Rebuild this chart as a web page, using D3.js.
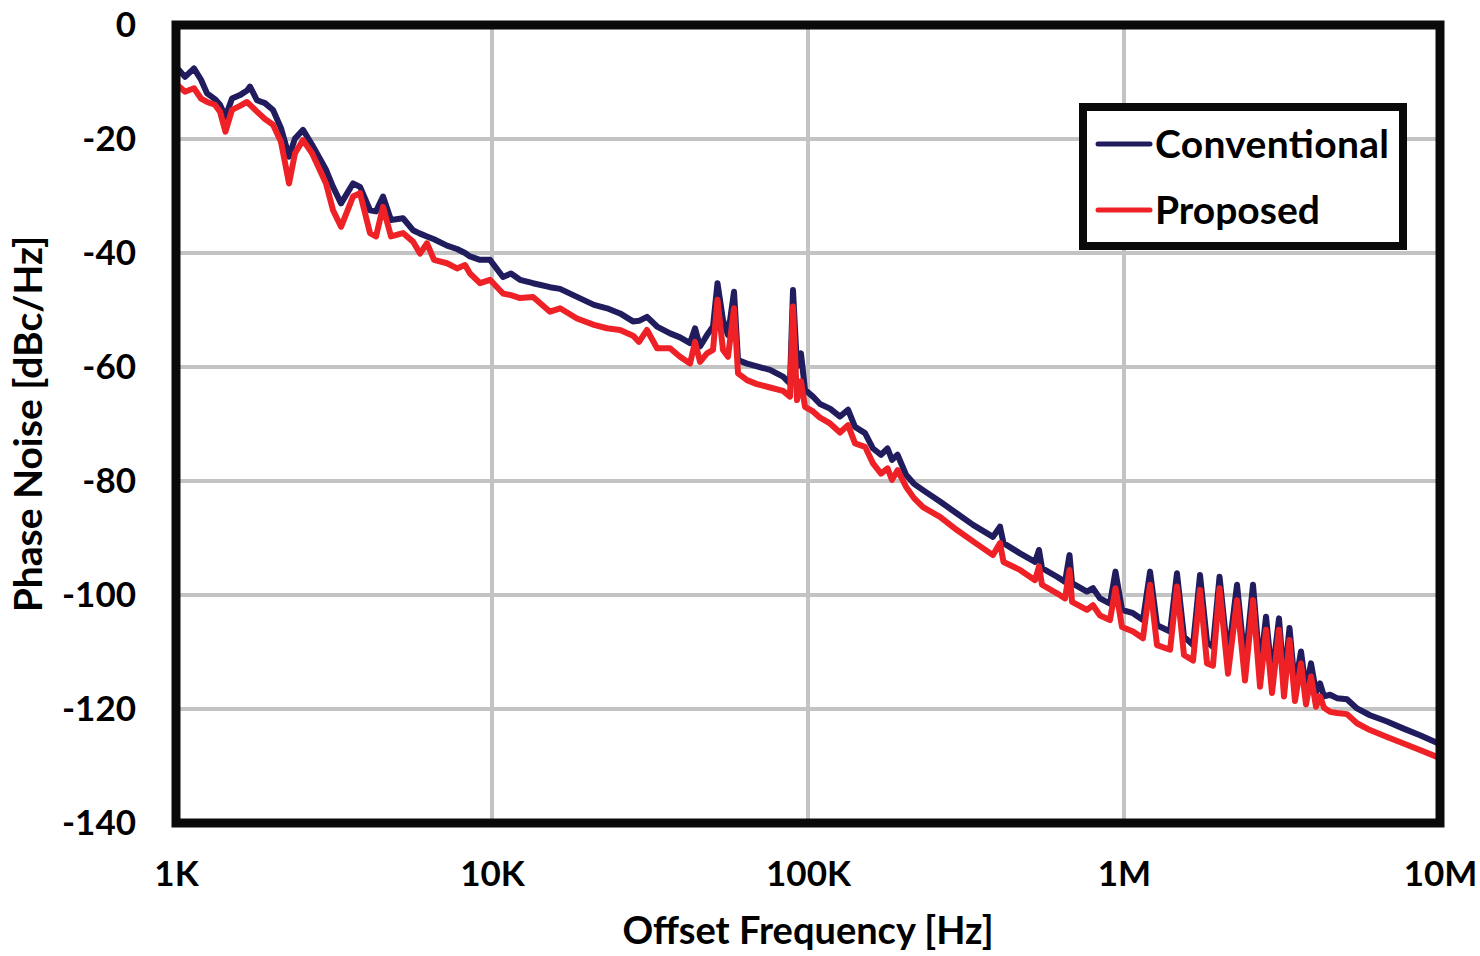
<!DOCTYPE html>
<html>
<head>
<meta charset="utf-8">
<script src="https://cdn.jsdelivr.net/npm/d3@7"></script>
<style>
  body { margin: 0; background: #fff; }
  text { font-family: Lato, "Open Sans", sans-serif; font-weight: 700; fill: #000; }
</style>
</head>
<body>
<div id="chart"></div>
<script>
// offset frequency in Hz
const freq = [1000,1068,1140,1200,1254,1328,1378,1434,1504,1594,1678,1715,1804,1912,2028,2149,2279,2380,2523,2695,
  2984,3140,3329,3632,3823,4111,4295,4520,4790,5229,5623,5919,6228,6554,7205,7750,8216,8520,9162,9856,
  10834,11483,12265,13487,15263,16420,18578,21028,23117,25420,27940,29190,30943,33290,36597,39355,42340,43910,45530,47907,
  50050,51710,53830,55830,58330,60060,64120,68960,75800,83360,87700,89640,92300,95000,97840,103700,109150,117400,126270,133870,
  140860,151500,160600,170220,178540,184470,192020,204240,216510,231200,261600,296050,332930,384900,405100,415600,468700,522900,538300,550200,
  613800,650700,672300,684700,763600,797700,839500,902900,939900,985600,1068000,1148000,1209000,1272000,1399000,1471000,1548000,1654000,1740000,1831000,
  1912000,2006000,2134000,2279000,2415000,2560000,2695000,2815000,2941000,3094000,3209000,3340000,3476000,3632000,3767000,3907000,4052000,4172000,4295000,4487000,
  4721000,5078000,5462000,6005000,6797000,7637000,8644000,9780000,10000000];

// phase noise in dBc/Hz
const conventional = [-7.3,-9.1,-7.6,-9.6,-12.0,-13.0,-14.0,-16.1,-12.9,-12.3,-11.5,-10.8,-13.2,-13.7,-14.9,-18.1,-23.1,-19.9,-18.4,-21.0,
  -25.4,-28.4,-31.3,-27.8,-28.4,-32.5,-32.7,-30.1,-34.2,-33.9,-36.0,-36.6,-37.1,-37.6,-38.7,-39.3,-40.0,-40.6,-41.2,-41.2,
  -44.2,-43.6,-44.7,-45.3,-46.0,-46.3,-47.7,-49.1,-49.7,-50.6,-52.0,-51.9,-51.2,-52.9,-54.1,-54.8,-55.8,-53.2,-56.4,-54.4,
  -52.9,-45.3,-51.8,-54.4,-46.8,-58.8,-59.4,-59.9,-60.5,-61.7,-62.9,-46.5,-59.9,-57.6,-64.0,-65.2,-66.5,-67.3,-68.7,-67.5,
  -70.5,-71.6,-74.3,-75.4,-74.3,-76.3,-75.4,-78.9,-80.5,-81.6,-83.6,-85.7,-87.7,-89.8,-88.0,-90.9,-92.7,-94.2,-92.1,-95.3,
  -96.8,-97.7,-93.0,-97.9,-99.4,-98.8,-100.6,-101.5,-95.9,-102.6,-103.2,-104.4,-95.9,-105.3,-106.4,-96.2,-107.3,-108.8,-96.5,-108.2,
  -109.1,-96.8,-111.1,-98.2,-112.3,-98.2,-113.2,-103.8,-114.5,-104.1,-115.2,-105.8,-116.1,-109.9,-116.7,-112.0,-117.0,-115.5,-117.8,-117.5,
  -118.1,-118.3,-119.9,-121.1,-122.2,-123.4,-124.6,-125.9,-126.1];

const proposed = [-10.3,-11.7,-11.1,-12.9,-13.5,-14.0,-15.2,-18.7,-14.9,-14.2,-13.5,-14.0,-15.2,-16.5,-17.5,-20.5,-27.8,-22.5,-20.2,-22.5,
  -27.8,-32.5,-35.4,-30.1,-29.5,-36.5,-37.1,-31.9,-37.1,-36.5,-38.0,-40.1,-38.3,-41.2,-41.8,-42.7,-42.1,-43.6,-45.3,-44.7,
  -47.1,-47.4,-47.9,-47.7,-50.3,-49.7,-51.5,-52.6,-53.2,-53.5,-54.5,-55.6,-53.5,-56.7,-56.7,-58.2,-59.4,-55.6,-59.1,-57.6,
  -57.0,-48.2,-57.0,-58.2,-49.7,-61.1,-62.3,-63.0,-63.6,-64.2,-65.2,-49.4,-65.8,-62.5,-67.0,-67.8,-68.9,-69.9,-71.5,-70.2,
  -73.4,-74.0,-76.9,-78.7,-77.8,-79.8,-78.1,-81.0,-83.0,-84.6,-86.3,-88.6,-90.6,-93.0,-90.9,-94.2,-95.6,-97.4,-95.0,-98.2,
  -99.7,-100.6,-95.6,-101.2,-102.6,-101.8,-103.6,-104.4,-98.8,-105.6,-106.4,-107.6,-98.2,-108.8,-109.6,-98.5,-110.5,-111.5,-99.1,-112.0,
  -112.4,-98.8,-113.8,-100.9,-115.0,-100.9,-116.1,-106.1,-117.2,-106.1,-117.8,-107.9,-118.6,-112.0,-119.2,-114.3,-119.6,-117.8,-119.8,-120.5,
  -120.7,-120.9,-122.5,-123.7,-124.9,-126.0,-127.2,-128.4,-128.6];

const seriesNames = ["Conventional", "Proposed"];
const seriesColors = ["#201c5e", "#ee2226"];

const xTicks = [1e3, 1e4, 1e5, 1e6, 1e7];
const xTickLabels = ["1K", "10K", "100K", "1M", "10M"];
const yTicks = [0, -20, -40, -60, -80, -100, -120, -140];

const width = 1480, height = 956;
const margin = {top: 25, right: 40, bottom: 133, left: 176};

const svg = d3.select("#chart")
  .append("svg")
  .attr("width", width)
  .attr("height", height);

const x = d3.scaleLog()
  .domain([1e3, 1e7])
  .range([margin.left, width - margin.right]);

const y = d3.scaleLinear()
  .domain([-140, 0])
  .range([height - margin.bottom, margin.top]);

// grid
svg.append("g")
  .selectAll("line.vgrid")
  .data(xTicks.slice(1, -1))
  .enter()
  .append("line")
  .attr("x1", d => x(d)).attr("x2", d => x(d))
  .attr("y1", y(0)).attr("y2", y(-140))
  .attr("stroke", "#c3c3c3")
  .attr("stroke-width", 4);

svg.append("g")
  .selectAll("line.hgrid")
  .data(yTicks.slice(1, -1))
  .enter()
  .append("line")
  .attr("x1", x(1e3)).attr("x2", x(1e7))
  .attr("y1", d => y(d)).attr("y2", d => y(d))
  .attr("stroke", "#c3c3c3")
  .attr("stroke-width", 4);

// clip for lines
svg.append("clipPath").attr("id", "plotClip")
  .append("rect")
  .attr("x", x(1e3)).attr("y", y(0))
  .attr("width", x(1e7) - x(1e3))
  .attr("height", y(-140) - y(0));

const line = d3.line()
  .x((d, i) => x(freq[i]))
  .y(d => y(d));

const series = [conventional, proposed];
series.forEach((vals, k) => {
  svg.append("path")
    .datum(vals)
    .attr("clip-path", "url(#plotClip)")
    .attr("d", line)
    .attr("fill", "none")
    .attr("stroke", seriesColors[k])
    .attr("stroke-width", 6)
    .attr("stroke-linejoin", "round")
    .attr("stroke-linecap", "round");
});

// frame
svg.append("rect")
  .attr("x", x(1e3)).attr("y", y(0))
  .attr("width", x(1e7) - x(1e3))
  .attr("height", y(-140) - y(0))
  .attr("fill", "none")
  .attr("stroke", "#0a0a0a")
  .attr("stroke-width", 9);

// axes
const yAxis = d3.axisLeft(y)
  .tickValues(yTicks)
  .tickSize(0)
  .tickPadding(40)
  .tickFormat(d => d);

const gy = svg.append("g")
  .attr("transform", `translate(${margin.left},0)`)
  .call(yAxis);
gy.select(".domain").remove();
gy.selectAll("text")
  .attr("font-size", 35)
  .attr("font-family", "Lato, sans-serif")
  .attr("font-weight", 700)
  .attr("fill", "#000");

const xAxis = d3.axisBottom(x)
  .tickValues(xTicks)
  .tickSize(0)
  .tickPadding(38)
  .tickFormat((d, i) => xTickLabels[i]);

const gx = svg.append("g")
  .attr("transform", `translate(0,${height - margin.bottom})`)
  .call(xAxis);
gx.select(".domain").remove();
gx.selectAll("text")
  .attr("font-size", 35)
  .attr("font-family", "Lato, sans-serif")
  .attr("font-weight", 700)
  .attr("fill", "#000");

// axis titles
svg.append("text")
  .attr("x", (x(1e3) + x(1e7)) / 2)
  .attr("y", 944)
  .attr("text-anchor", "middle")
  .attr("font-size", 38)
  .text("Offset Frequency [Hz]");

svg.append("text")
  .attr("transform", `translate(42,${(y(0) + y(-140)) / 2}) rotate(-90)`)
  .attr("text-anchor", "middle")
  .attr("font-size", 39)
  .text("Phase Noise [dBc/Hz]");

// legend
const legend = svg.append("g").attr("transform", "translate(1083,107)");
legend.append("rect")
  .attr("width", 320).attr("height", 139)
  .attr("fill", "#fff")
  .attr("stroke", "#0a0a0a")
  .attr("stroke-width", 8);

seriesNames.forEach((name, k) => {
  const ly = 37 + k * 66;
  legend.append("line")
    .attr("x1", 15).attr("x2", 67)
    .attr("y1", ly).attr("y2", ly)
    .attr("stroke", seriesColors[k])
    .attr("stroke-width", 5)
    .attr("stroke-linecap", "round");
  legend.append("text")
    .attr("x", 72).attr("y", ly)
    .attr("dy", "0.35em")
    .attr("font-size", 39)
    .attr("textLength", name === "Conventional" ? 234 : null)
    .text(name);
});
</script>
</body>
</html>
